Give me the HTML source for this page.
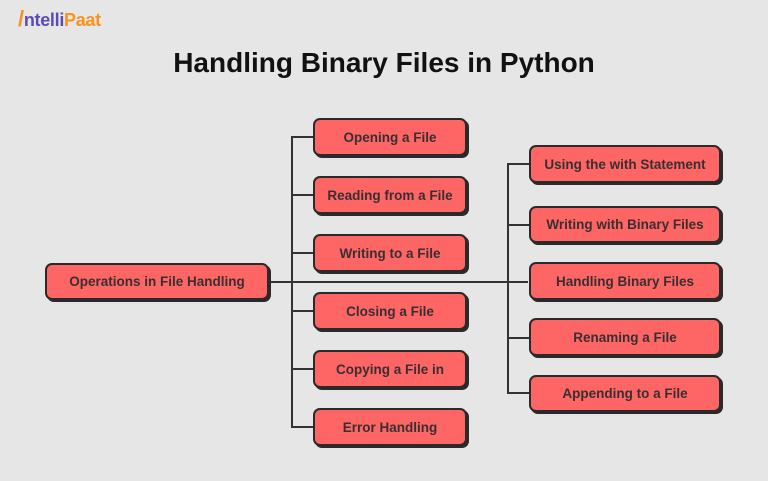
<!DOCTYPE html>
<html><head><style>
body{margin:0;width:768px;height:481px;background:#e6e6e6;position:relative;overflow:hidden;font-family:"Liberation Sans",sans-serif}
.b{position:absolute;box-sizing:border-box;background:#fe6565;border:2px solid #2a2a2a;border-radius:7px;box-shadow:2px 2px 0 #2a2a2a;display:flex;align-items:center;justify-content:center;font-weight:bold;font-size:13.5px;color:#3a2f30;white-space:nowrap}
.l{position:absolute;background:#333}
</style></head><body>
<div style="position:absolute;left:18px;top:6px;font-weight:bold;font-size:18px;letter-spacing:-0.3px"><span style="color:#f7931e;font-size:22px">/</span><span style="color:#5b4bb7">ntelli</span><span style="color:#f7931e">Paat</span></div>
<div style="position:absolute;left:0;width:768px;top:47px;text-align:center;font-weight:bold;font-size:28px;color:#111">Handling Binary Files in Python</div>

<div class="l" style="left:270px;top:281px;width:258px;height:2px"></div>
<div class="l" style="left:291px;top:136px;width:2px;height:292px;border-radius:2px"></div>
<div class="l" style="left:507px;top:163px;width:2px;height:231px"></div>
<div class="l" style="left:291px;top:136px;width:22px;height:2px"></div>
<div class="l" style="left:291px;top:194px;width:22px;height:2px"></div>
<div class="l" style="left:291px;top:252px;width:22px;height:2px"></div>
<div class="l" style="left:291px;top:310px;width:22px;height:2px"></div>
<div class="l" style="left:291px;top:368px;width:22px;height:2px"></div>
<div class="l" style="left:291px;top:426px;width:22px;height:2px"></div>
<div class="l" style="left:507px;top:163px;width:22px;height:2px"></div>
<div class="l" style="left:507px;top:224px;width:22px;height:2px"></div>
<div class="l" style="left:507px;top:337px;width:22px;height:2px"></div>
<div class="l" style="left:507px;top:392px;width:22px;height:2px"></div>

<div class="b" style="left:45px;top:263px;width:224px;height:37px">Operations in File Handling</div>

<div class="b" style="left:313px;top:118px;width:154px;height:38px">Opening a File</div>
<div class="b" style="left:313px;top:176px;width:154px;height:38px">Reading from a File</div>
<div class="b" style="left:313px;top:234px;width:154px;height:38px">Writing to a File</div>
<div class="b" style="left:313px;top:292px;width:154px;height:38px">Closing a File</div>
<div class="b" style="left:313px;top:350px;width:154px;height:38px">Copying a File in</div>
<div class="b" style="left:313px;top:408px;width:154px;height:38px">Error Handling</div>

<div class="b" style="left:529px;top:145px;width:192px;height:38px">Using the with Statement</div>
<div class="b" style="left:529px;top:206px;width:192px;height:37px">Writing with Binary Files</div>
<div class="b" style="left:529px;top:262px;width:192px;height:38px">Handling Binary Files</div>
<div class="b" style="left:529px;top:318px;width:192px;height:38px">Renaming a File</div>
<div class="b" style="left:529px;top:375px;width:192px;height:37px">Appending to a File</div>
</body></html>
